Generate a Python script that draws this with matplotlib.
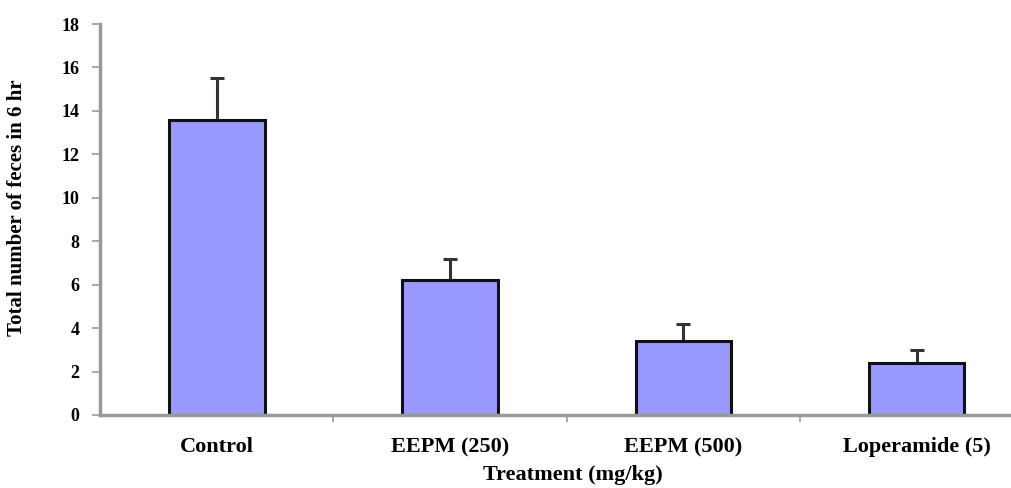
import numpy as np
import matplotlib
matplotlib.use('Agg')
import matplotlib.pyplot as plt
from matplotlib import rcParams

rcParams['font.family'] = 'serif'
rcParams['font.serif'] = ['Liberation Serif']

treatments = ['Control', 'EEPM (250)', 'EEPM (500)', 'Loperamide (5)']
mean_feces = [13.6, 6.2, 3.4, 2.4]
sem_feces = [1.9, 1.0, 0.8, 0.6]

fig = plt.figure(figsize=(10.12, 4.88), dpi=100)
ax = fig.add_axes([0.099, 0.1496, 0.922, 0.8012])

x = np.arange(len(treatments))
ax.bar(x, mean_feces, width=0.41, color='#9999ff', edgecolor='#111111',
       linewidth=2.2, zorder=2)
ax.errorbar(x, mean_feces, yerr=[np.zeros(len(x)), sem_feces], fmt='none',
            ecolor='#333333', elinewidth=2.2, capsize=5, capthick=2.2, zorder=1)

ax.set_xlim(-0.5, 3.5)
ax.set_ylim(0, 18)
ax.set_yticks(np.arange(0, 19, 2))
ax.set_xticks(x)
ax.set_xticklabels(treatments, fontsize=16, fontweight='bold')
ax.set_xticks([0.5, 1.5, 2.5], minor=True)
ax.tick_params(axis='x', which='major', length=0, pad=16)
ax.tick_params(axis='x', which='minor', length=5, width=1.2, color='#999999')
ax.tick_params(axis='y', length=6, width=1.2, color='#999999', labelsize=13, pad=9)
for lab in ax.get_yticklabels():
    lab.set_fontweight('bold')

for s in ['top', 'right']:
    ax.spines[s].set_visible(False)
for s in ['left', 'bottom']:
    ax.spines[s].set_color('#999999')
    ax.spines[s].set_linewidth(2.5)

ax.set_ylabel('Total number of feces in 6 hr', fontsize=15, fontweight='bold')
ax.yaxis.set_label_coords(-0.078, 0.53)
ax.set_xlabel('Treatment (mg/kg)', fontsize=16, fontweight='bold')
ax.xaxis.set_label_coords(0.507, -0.128)

plt.savefig('out.png', dpi=100)
